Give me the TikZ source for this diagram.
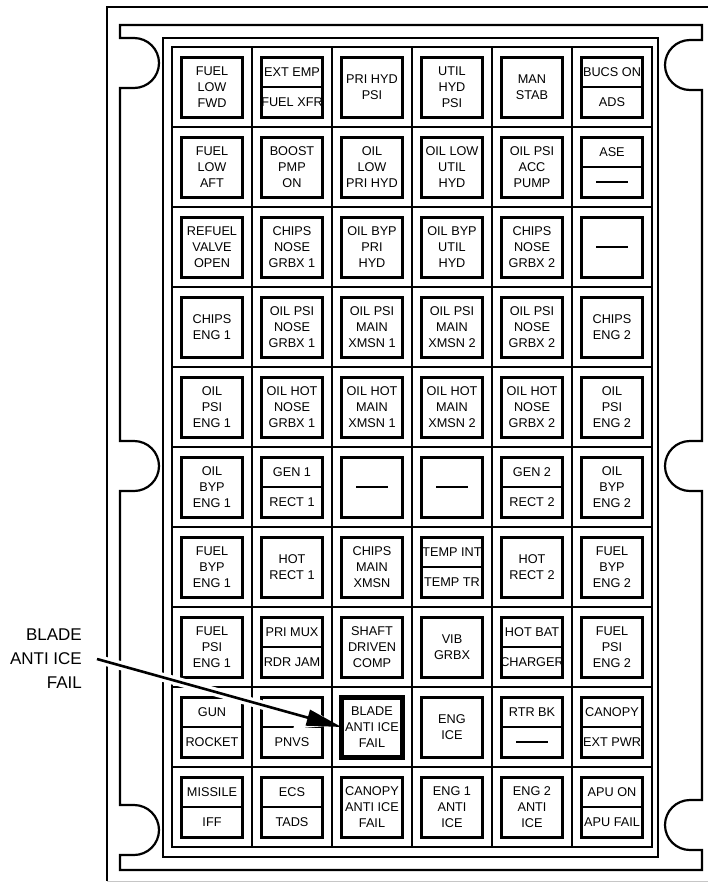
\documentclass[tikz,border=0pt]{standalone}
\usepackage{fontspec}
\setmainfont{Liberation Sans}
\usetikzlibrary{positioning,arrows.meta,calc}

% one lamp per cell: column #2, row #3
\newcommand{\lamp}[4]{\node[lamp] (#1) at ({132+80*#2},{7+80*#3}) {#4};}
\newcommand{\splitlamp}[5]{%
  \node[lamp] (#1) at ({132+80*#2},{7+80*#3}) {};
  \draw[lampedge] (#1.west) -- (#1.east);
  \node[legend] (#1-up) at ($(#1.center)!0.5!(#1.north)$) {#4};
  \node[legend] (#1-dn) at ($(#1.center)!0.5!(#1.south)$) {#5};}
\newcommand{\blankbar}[1]{\draw[nolegend] ([xshift=-16pt]#1.center) -- ([xshift=16pt]#1.center);}

\begin{document}
\begin{tikzpicture}[
  x=1pt, y=-1pt,
  rim/.style={line width=2.2pt},
  lamp/.style={draw, line width=3pt, minimum width=61pt, minimum height=60pt,
    inner sep=0pt, outer sep=0pt, align=center, font=\fontsize{12.7}{16}\selectfont},
  lampedge/.style={line width=2.6pt},
  legend/.style={inner sep=0pt, font=\fontsize{12.7}{16}\selectfont},
  nolegend/.style={line width=2.6pt},
  callout/.style={align=right, inner sep=0pt, font=\fontsize{17}{24}\selectfont},
  pointer/.style={line width=2.6pt, -{Triangle[length=35pt,width=16pt]}},
  halo/.style={white, line width=9pt, shorten >=4pt, -{Triangle[length=42pt,width=26pt]}}
]
\useasboundingbox (0,0) rectangle (708,884);

% housing and mounting plate
\draw[rim] (708,7) -- (107,7) -- (107,881);
\draw[gray!45, line width=1pt] (107,881) -- (708,881);
\draw[rim] (120,25) -- (702,25)
  -- (702,40) -- (690,40) arc (270:90:25) -- (702,90)
  -- (702,441) -- (690,441) arc (270:90:25) -- (702,491)
  -- (702,800) -- (690,800) arc (270:90:25) -- (702,850)
  -- (702,870) -- (120,870)
  -- (120,855) -- (134,855) arc (90:-90:25) -- (120,805)
  -- (120,491) -- (134,491) arc (90:-90:25) -- (120,441)
  -- (120,88) -- (134,88) arc (90:-90:25) -- (120,38) -- cycle;
\draw[rim] (163,38) rectangle (658,857);
\draw[rim] (172,47) rectangle (652,847);
\foreach \i in {1,...,5} \draw[rim] ({172+80*\i},47) -- ({172+80*\i},847);
\foreach \j in {1,...,9} \draw[rim] (172,{47+80*\j}) -- (652,{47+80*\j});

% row 1
\lamp{r1c1}{1}{1}{FUEL\\LOW\\FWD}
\splitlamp{r1c2}{2}{1}{EXT EMP}{FUEL XFR}
\lamp{r1c3}{3}{1}{PRI HYD\\PSI}
\lamp{r1c4}{4}{1}{UTIL\\HYD\\PSI}
\lamp{r1c5}{5}{1}{MAN\\STAB}
\splitlamp{r1c6}{6}{1}{BUCS ON}{ADS}
% row 2
\lamp{r2c1}{1}{2}{FUEL\\LOW\\AFT}
\lamp{r2c2}{2}{2}{BOOST\\PMP\\ON}
\lamp{r2c3}{3}{2}{OIL\\LOW\\PRI HYD}
\lamp{r2c4}{4}{2}{OIL LOW\\UTIL\\HYD}
\lamp{r2c5}{5}{2}{OIL PSI\\ACC\\PUMP}
\splitlamp{r2c6}{6}{2}{ASE}{}
\blankbar{r2c6-dn}
% row 3
\lamp{r3c1}{1}{3}{REFUEL\\VALVE\\OPEN}
\lamp{r3c2}{2}{3}{CHIPS\\NOSE\\GRBX 1}
\lamp{r3c3}{3}{3}{OIL BYP\\PRI\\HYD}
\lamp{r3c4}{4}{3}{OIL BYP\\UTIL\\HYD}
\lamp{r3c5}{5}{3}{CHIPS\\NOSE\\GRBX 2}
\lamp{r3c6}{6}{3}{}
\blankbar{r3c6}
% row 4
\lamp{r4c1}{1}{4}{CHIPS\\ENG 1}
\lamp{r4c2}{2}{4}{OIL PSI\\NOSE\\GRBX 1}
\lamp{r4c3}{3}{4}{OIL PSI\\MAIN\\XMSN 1}
\lamp{r4c4}{4}{4}{OIL PSI\\MAIN\\XMSN 2}
\lamp{r4c5}{5}{4}{OIL PSI\\NOSE\\GRBX 2}
\lamp{r4c6}{6}{4}{CHIPS\\ENG 2}
% row 5
\lamp{r5c1}{1}{5}{OIL\\PSI\\ENG 1}
\lamp{r5c2}{2}{5}{OIL HOT\\NOSE\\GRBX 1}
\lamp{r5c3}{3}{5}{OIL HOT\\MAIN\\XMSN 1}
\lamp{r5c4}{4}{5}{OIL HOT\\MAIN\\XMSN 2}
\lamp{r5c5}{5}{5}{OIL HOT\\NOSE\\GRBX 2}
\lamp{r5c6}{6}{5}{OIL\\PSI\\ENG 2}
% row 6
\lamp{r6c1}{1}{6}{OIL\\BYP\\ENG 1}
\splitlamp{r6c2}{2}{6}{GEN 1}{RECT 1}
\lamp{r6c3}{3}{6}{}
\blankbar{r6c3}
\lamp{r6c4}{4}{6}{}
\blankbar{r6c4}
\splitlamp{r6c5}{5}{6}{GEN 2}{RECT 2}
\lamp{r6c6}{6}{6}{OIL\\BYP\\ENG 2}
% row 7
\lamp{r7c1}{1}{7}{FUEL\\BYP\\ENG 1}
\lamp{r7c2}{2}{7}{HOT\\RECT 1}
\lamp{r7c3}{3}{7}{CHIPS\\MAIN\\XMSN}
\splitlamp{r7c4}{4}{7}{TEMP INT}{TEMP TR}
\lamp{r7c5}{5}{7}{HOT\\RECT 2}
\lamp{r7c6}{6}{7}{FUEL\\BYP\\ENG 2}
% row 8
\lamp{r8c1}{1}{8}{FUEL\\PSI\\ENG 1}
\splitlamp{r8c2}{2}{8}{PRI MUX}{RDR JAM}
\lamp{r8c3}{3}{8}{SHAFT\\DRIVEN\\COMP}
\lamp{r8c4}{4}{8}{VIB\\GRBX}
\splitlamp{r8c5}{5}{8}{HOT BAT}{CHARGER}
\lamp{r8c6}{6}{8}{FUEL\\PSI\\ENG 2}
% row 9
\splitlamp{r9c1}{1}{9}{GUN}{ROCKET}
\splitlamp{r9c2}{2}{9}{}{PNVS}
\node[lamp, line width=5pt] (blade) at ({132+80*3},{7+80*9}) {BLADE\\ANTI ICE\\FAIL};
\lamp{r9c4}{4}{9}{ENG\\ICE}
\splitlamp{r9c5}{5}{9}{RTR BK}{}
\blankbar{r9c5-dn}
\splitlamp{r9c6}{6}{9}{CANOPY}{EXT PWR}
% row 10
\splitlamp{r10c1}{1}{10}{MISSILE}{IFF}
\splitlamp{r10c2}{2}{10}{ECS}{TADS}
\lamp{r10c3}{3}{10}{CANOPY\\ANTI ICE\\FAIL}
\lamp{r10c4}{4}{10}{ENG 1\\ANTI\\ICE}
\lamp{r10c5}{5}{10}{ENG 2\\ANTI\\ICE}
\splitlamp{r10c6}{6}{10}{APU ON}{APU FAIL}

% callout
\node[callout, anchor=east] (bladelbl) at (82,659) {BLADE\\ANTI ICE\\FAIL};
\draw[halo] ([xshift=15pt]bladelbl.east) -- (blade.west);
\draw[pointer] ([xshift=15pt]bladelbl.east) -- (blade.west);
\end{tikzpicture}
\end{document}
